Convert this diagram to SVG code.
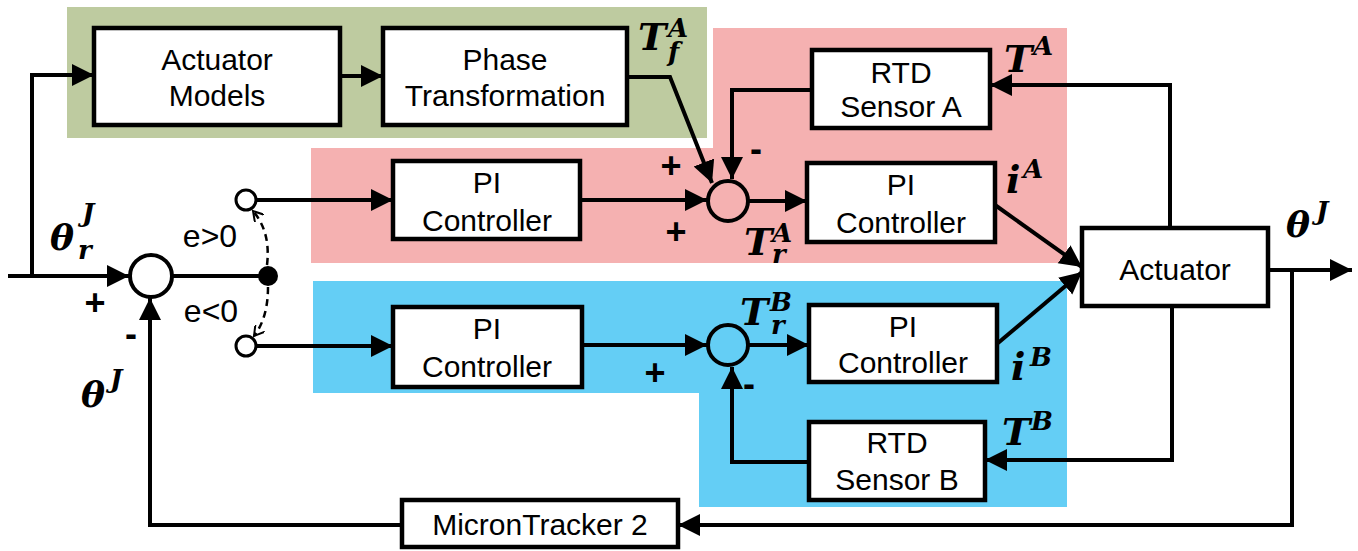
<svg xmlns="http://www.w3.org/2000/svg" width="1358" height="551" viewBox="0 0 1358 551">
<defs>
<marker id="ah" markerUnits="userSpaceOnUse" markerWidth="24" markerHeight="24" refX="22" refY="11" orient="auto">
<path d="M0,0 L22,11 L0,22 Z" fill="#000"/>
</marker>
<marker id="sa" markerUnits="userSpaceOnUse" markerWidth="12" markerHeight="12" refX="10" refY="6" orient="auto">
<path d="M0,0 L10,6 L0,12" fill="none" stroke="#000" stroke-width="2"/>
</marker>
</defs>
<style>
.box{fill:#fff;stroke:#000;stroke-width:4.5}
.t{font-family:"Liberation Sans",Arial,sans-serif;font-size:30px;fill:#000;text-anchor:middle}
.ln{fill:none;stroke:#000;stroke-width:4}
.arr{fill:none;stroke:#000;stroke-width:4;marker-end:url(#ah)}
.dash{fill:none;stroke:#000;stroke-width:2.5;stroke-dasharray:7,5;marker-end:url(#sa)}
.m{font-family:"DejaVu Serif","Liberation Serif",serif;font-weight:bold;font-style:italic;fill:#000}
.sg{font-family:"Liberation Sans",Arial,sans-serif;font-size:36px;font-weight:bold;fill:#000;text-anchor:middle}
.sum{fill:none;stroke:#000;stroke-width:4}
</style>
<rect width="1358" height="551" fill="#fff"/>
<!-- backgrounds -->
<rect x="67" y="7" width="640" height="131" fill="#becba0"/>
<path d="M713,28 H1067 V263 H311 V148 H713 Z" fill="#f5b1b1"/>
<path d="M313,281 H1067 V507 H699 V393 H313 Z" fill="#64cef5"/>

<g id="connectors">
<path class="arr" d="M8,276 H129"/>
<path class="arr" d="M32,276 V75 H94"/>
<path class="arr" d="M340,76 H383"/>
<path class="arr" d="M627,77 H670 L712,183"/>
<path class="ln" d="M173,276 H268"/>
<path class="arr" d="M256,200 H393"/>
<path class="arr" d="M580,200 H707"/>
<path class="arr" d="M749,201 H807"/>
<path class="arr" d="M1170,228 V85 H990"/>
<path class="arr" d="M812,90 H732 V179"/>
<path class="arr" d="M995,205 L1082,267"/>
<path class="arr" d="M1268,270 H1352"/>
<path class="arr" d="M1292,270 V525 H678"/>
<path class="arr" d="M402,525 H150 V298"/>
<path class="arr" d="M256,346 H393"/>
<path class="arr" d="M582,345 H707"/>
<path class="arr" d="M749,345 H809"/>
<path class="arr" d="M998,343 L1082,272"/>
<path class="arr" d="M1172,306 V460 H985"/>
<path class="arr" d="M809,462 H732 V367"/>
<path class="dash" d="M267,265 Q271,232 253,211"/>
<path class="dash" d="M268,287 Q268,318 254,336"/>
</g>

<g id="actuator-models"><rect class="box" x="94" y="28" width="246" height="97"/><text class="t" x="217" y="70">Actuator</text><text class="t" x="217" y="106">Models</text></g>
<g id="phase-transformation"><rect class="box" x="383" y="28" width="244" height="97"/><text class="t" x="505" y="70">Phase</text><text class="t" x="505" y="106">Transformation</text></g>
<g id="rtd-a"><rect class="box" x="812" y="50" width="178" height="78"/><text class="t" x="901" y="83">RTD</text><text class="t" x="901" y="117">Sensor A</text></g>
<g id="pi-a1"><rect class="box" x="393" y="161" width="187" height="78"/><text class="t" x="487" y="193">PI</text><text class="t" x="487" y="231">Controller</text></g>
<g id="pi-a2"><rect class="box" x="807" y="163" width="188" height="79"/><text class="t" x="901" y="195">PI</text><text class="t" x="901" y="233">Controller</text></g>
<g id="pi-b1"><rect class="box" x="393" y="307" width="189" height="80"/><text class="t" x="487" y="339">PI</text><text class="t" x="487" y="377">Controller</text></g>
<g id="pi-b2"><rect class="box" x="809" y="305" width="188" height="77"/><text class="t" x="903" y="337">PI</text><text class="t" x="903" y="373">Controller</text></g>
<g id="rtd-b"><rect class="box" x="809" y="422" width="176" height="78"/><text class="t" x="897" y="453">RTD</text><text class="t" x="897" y="490">Sensor B</text></g>
<g id="actuator"><rect class="box" x="1082" y="228" width="186" height="78"/><text class="t" x="1175" y="280">Actuator</text></g>
<g id="microntracker"><rect class="box" x="402" y="500" width="276" height="47"/><text class="t" x="540" y="535">MicronTracker 2</text></g>

<g id="sum-main"><circle class="sum" cx="151" cy="276" r="21"/></g>
<g id="sum-a"><circle class="sum" cx="728" cy="201" r="20"/></g>
<g id="sum-b"><circle class="sum" cx="728" cy="345" r="20"/></g>
<g id="switch">
<circle cx="268" cy="276" r="10" fill="#000"/>
<circle cx="246" cy="200" r="10" fill="#fff" stroke="#000" stroke-width="3"/>
<circle cx="246" cy="346" r="10" fill="#fff" stroke="#000" stroke-width="3"/>
<text class="t" x="210" y="247" style="font-size:32px">e&gt;0</text>
<text class="t" x="211" y="322" style="font-size:32px">e&lt;0</text>
</g>

<g id="labels">
<text class="sg" x="95" y="315">+</text>
<text class="sg" x="131" y="346">-</text>
<text class="sg" x="671" y="178">+</text>
<text class="sg" x="676" y="244">+</text>
<text class="sg" x="756" y="161">-</text>
<text class="sg" x="655" y="385">+</text>
<text class="sg" x="749" y="396">-</text>
<!-- math -->
<text class="m" x="638" y="50" font-size="38">T</text>
<text class="m" x="668" y="37" font-size="26">A</text>
<text class="m" x="668" y="61" font-size="26">f</text>
<text class="m" x="50" y="250" font-size="36">θ</text>
<text class="m" x="82" y="222" font-size="26">J</text>
<text class="m" x="78" y="259" font-size="26">r</text>
<text class="m" x="81" y="407" font-size="36">θ</text>
<text class="m" x="110" y="388" font-size="26">J</text>
<text class="m" x="1004" y="72" font-size="38">T</text>
<text class="m" x="1033" y="55" font-size="26">A</text>
<text class="m" x="1006" y="193" font-size="38">i</text>
<text class="m" x="1023" y="178" font-size="26">A</text>
<text class="m" x="744" y="255" font-size="38">T</text>
<text class="m" x="772" y="242" font-size="26">A</text>
<text class="m" x="772" y="263" font-size="26">r</text>
<text class="m" x="740" y="325" font-size="38">T</text>
<text class="m" x="770" y="311" font-size="26">B</text>
<text class="m" x="771" y="334" font-size="26">r</text>
<text class="m" x="1011" y="380" font-size="38">i</text>
<text class="m" x="1030" y="366" font-size="26">B</text>
<text class="m" x="1002" y="445" font-size="38">T</text>
<text class="m" x="1031" y="430" font-size="26">B</text>
<text class="m" x="1286" y="237" font-size="36">θ</text>
<text class="m" x="1316" y="220" font-size="26">J</text>
</g>
</svg>
